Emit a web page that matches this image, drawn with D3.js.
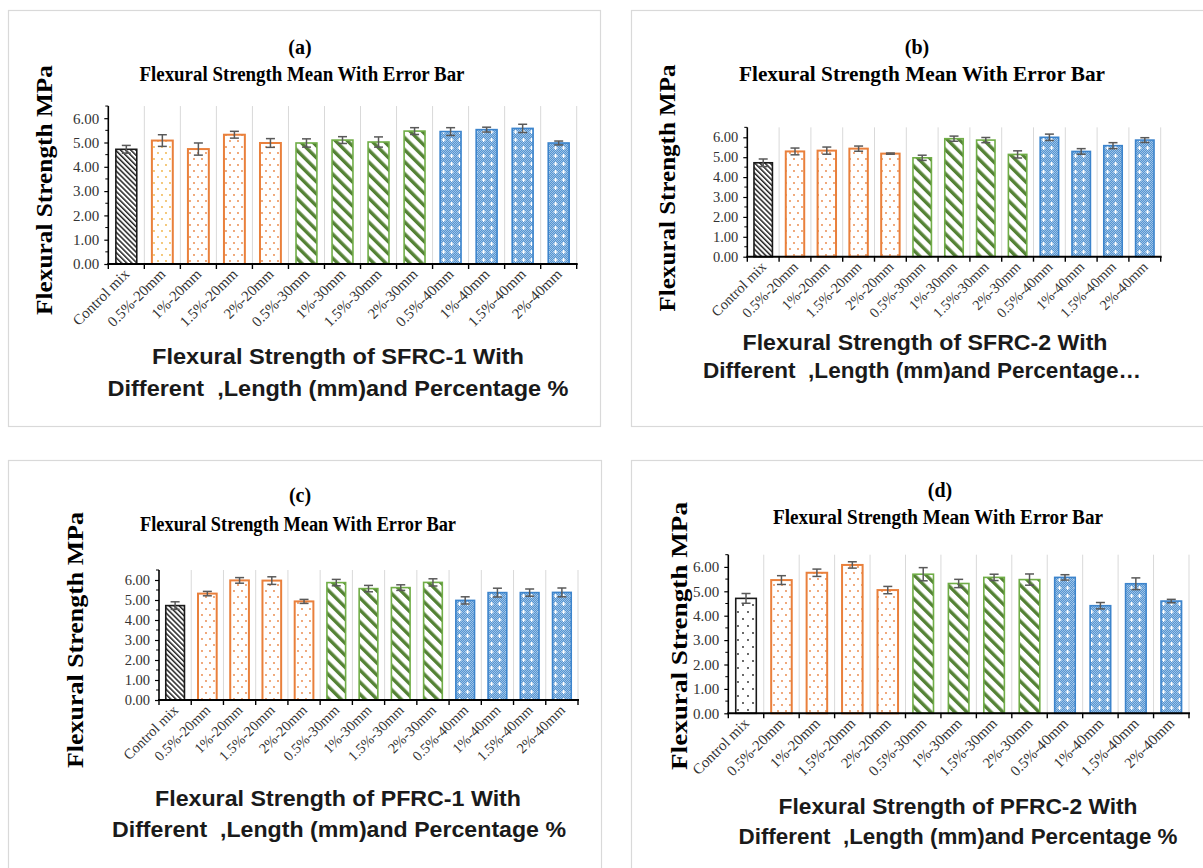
<!DOCTYPE html>
<html>
<head>
<meta charset="utf-8">
<script src="https://cdn.jsdelivr.net/npm/d3@7"></script>
<style>
  html, body { margin: 0; padding: 0; background: #fff; }
  svg { display: block; font-family: "Liberation Serif", "Times New Roman", serif; }
  .keep-space { white-space: pre; }
</style>
</head>
<body>
<svg id="chart" width="1203" height="868"></svg>
<script>
// Mix designations (fibre dosage % - fibre length)
const categories = ["Control mix", "0.5%-20mm", "1%-20mm", "1.5%-20mm", "2%-20mm",
  "0.5%-30mm", "1%-30mm", "1.5%-30mm", "2%-30mm",
  "0.5%-40mm", "1%-40mm", "1.5%-40mm", "2%-40mm"];
// Fibre length group of each mix
const lengthGroups = ["control", "20mm", "20mm", "20mm", "20mm",
  "30mm", "30mm", "30mm", "30mm", "40mm", "40mm", "40mm", "40mm"];

// Flexural strength means (MPa) and error bar half-widths
const sfrc1Mean = [4.72, 5.08, 4.73, 5.32, 4.98, 4.98, 5.10, 5.02, 5.47, 5.45, 5.53, 5.58, 4.98];
const sfrc1Err  = [0.16, 0.24, 0.25, 0.14, 0.18, 0.17, 0.14, 0.21, 0.14, 0.16, 0.10, 0.17, 0.08];
const sfrc2Mean = [4.72, 5.29, 5.33, 5.43, 5.18, 4.97, 5.93, 5.86, 5.14, 6.00, 5.29, 5.58, 5.86];
const sfrc2Err  = [0.19, 0.17, 0.18, 0.13, 0.03, 0.13, 0.13, 0.13, 0.18, 0.16, 0.14, 0.15, 0.12];
const pfrc1Mean = [4.72, 5.32, 5.98, 5.97, 4.93, 5.87, 5.57, 5.62, 5.88, 4.98, 5.37, 5.37, 5.38];
const pfrc1Err  = [0.19, 0.11, 0.14, 0.19, 0.10, 0.16, 0.16, 0.14, 0.18, 0.18, 0.22, 0.18, 0.22];
const pfrc2Mean = [4.71, 5.46, 5.76, 6.08, 5.05, 5.70, 5.32, 5.57, 5.48, 5.57, 4.41, 5.31, 4.60];
const pfrc2Err  = [0.20, 0.18, 0.15, 0.13, 0.15, 0.27, 0.17, 0.13, 0.23, 0.11, 0.13, 0.24, 0.07];

const yTicks = [0, 1, 2, 3, 4, 5, 6];
const yMax = 6.5;

const svg = d3.select("#chart");
const defs = svg.append("defs");

// ---- fill patterns ----
function stripes(id, size, w, color) {
  const p = defs.append("pattern").attr("id", id)
    .attr("patternUnits", "userSpaceOnUse")
    .attr("width", size).attr("height", size)
    .attr("patternTransform", "rotate(-45)");
  p.append("rect").attr("width", size).attr("height", size).attr("fill", "#fff");
  p.append("rect").attr("x", 0).attr("width", w).attr("height", size).attr("fill", color);
}
stripes("hatchBlack", 3.6, 1.5, "#222");
stripes("hatchGreen", 8.5, 3.4, "#548235");

function dots(id, wd, ht, r, color, pts) {
  const p = defs.append("pattern").attr("id", id)
    .attr("patternUnits", "userSpaceOnUse")
    .attr("width", wd).attr("height", ht);
  p.append("rect").attr("width", wd).attr("height", ht).attr("fill", "#fff");
  pts.forEach(([x, y]) => p.append("circle").attr("cx", x).attr("cy", y).attr("r", r).attr("fill", color));
}
dots("dotOrange", 8, 12, 0.9, "#E9823F", [[2, 3], [6, 9]]);
dots("dotYellow", 8, 12, 0.9, "#F0B040", [[2, 3], [6, 9]]);
dots("dotBlack", 10, 14, 0.9, "#222", [[3, 3], [8, 10]]);

(function () {
  const p = defs.append("pattern").attr("id", "blueCheck")
    .attr("patternUnits", "userSpaceOnUse")
    .attr("width", 8).attr("height", 8);
  p.append("rect").attr("width", 8).attr("height", 8).attr("fill", "#5594D2");
  for (let i = 0; i < 8; i++) for (let j = 0; j < 8; j++) {
    if ((i + j) % 2 === 0) p.append("rect").attr("x", i).attr("y", j).attr("width", 1).attr("height", 1).attr("fill", "#9DC3E6");
  }
  p.append("rect").attr("x", 3).attr("y", 2).attr("width", 1.2).attr("height", 4).attr("fill", "#fff");
  p.append("rect").attr("x", 1.6).attr("y", 3.4).attr("width", 4).attr("height", 1.2).attr("fill", "#fff");
})();

const styleOf = {
  control: { fill: "url(#hatchBlack)", stroke: "#1a1a1a", sw: 1.6 },
  "20mm": { fill: "url(#dotOrange)", stroke: "#E9803C", sw: 2 },
  "30mm": { fill: "url(#hatchGreen)", stroke: "#70AD47", sw: 1.6 },
  "40mm": { fill: "url(#blueCheck)", stroke: "#3C84CC", sw: 1.6 }
};

function panel(cfg) {
  const g = svg.append("g");
  // outer frame
  g.append("rect").attr("x", cfg.frame[0] + 0.5).attr("y", cfg.frame[1] + 0.5)
    .attr("width", cfg.frame[2]).attr("height", cfg.frame[3])
    .attr("fill", "none").attr("stroke", "#d9d9d9").attr("stroke-width", 1.2);

  const x = d3.scaleBand().domain(categories).range([cfg.left, cfg.right]).paddingInner(0.42).paddingOuter(0.21);
  const y = d3.scaleLinear().domain([0, yMax]).range([cfg.y0, cfg.y0 - yMax * cfg.unit]);
  const step = x.step();

  // vertical gridlines between categories
  const bounds = categories.map((c, i) => cfg.left + i * step).concat([cfg.right]);
  g.selectAll(".grid").data(bounds.slice(1)).join("line")
    .attr("x1", d => d).attr("x2", d => d)
    .attr("y1", y(yMax)).attr("y2", cfg.y0)
    .attr("stroke", "#d9d9d9").attr("stroke-width", 1);

  // bars
  g.selectAll(".bar").data(cfg.mean).join("rect")
    .attr("x", (d, i) => x(categories[i]))
    .attr("y", d => y(d))
    .attr("width", x.bandwidth())
    .attr("height", d => cfg.y0 - y(d))
    .attr("fill", (d, i) => (i === 0 && cfg.controlFill) ? cfg.controlFill :
      (i === 1 && cfg.firstOrange) ? cfg.firstOrange : styleOf[lengthGroups[i]].fill)
    .attr("stroke", (d, i) => styleOf[lengthGroups[i]].stroke)
    .attr("stroke-width", (d, i) => styleOf[lengthGroups[i]].sw);

  // error bars
  const eb = g.selectAll(".err").data(cfg.mean).join("g")
    .attr("transform", (d, i) => `translate(${x(categories[i]) + x.bandwidth() / 2},0)`)
    .attr("stroke", "#595959").attr("stroke-width", 1.5);
  eb.append("line").attr("x1", 0).attr("x2", 0)
    .attr("y1", (d, i) => y(d + cfg.err[i])).attr("y2", (d, i) => y(d - cfg.err[i]));
  eb.append("line").attr("x1", -4.5).attr("x2", 4.5)
    .attr("y1", (d, i) => y(d + cfg.err[i])).attr("y2", (d, i) => y(d + cfg.err[i]));
  eb.append("line").attr("x1", -4.5).attr("x2", 4.5)
    .attr("y1", (d, i) => y(d - cfg.err[i])).attr("y2", (d, i) => y(d - cfg.err[i]));

  // y axis
  const yAxis = g.append("g").attr("transform", `translate(${cfg.left},0)`)
    .call(d3.axisLeft(y).tickValues(yTicks).tickFormat(d3.format(".2f")).tickSize(4).tickPadding(5));
  yAxis.select(".domain").attr("stroke", "#000").attr("stroke-width", 1.6)
    .attr("d", `M0,${cfg.y0}V${y(yMax)}`);
  yAxis.selectAll(".tick line").attr("stroke", "#000").attr("stroke-width", 1.2);
  yAxis.selectAll(".tick text").attr("font-size", cfg.tickFont).attr("fill", "#333")
    .attr("font-family", "Liberation Serif, serif");
  // minor ticks
  g.selectAll(".minor").data(d3.range(0.5, yMax + 0.01, 1)).join("line")
    .attr("x1", cfg.left - 3).attr("x2", cfg.left)
    .attr("y1", d => y(d)).attr("y2", d => y(d))
    .attr("stroke", "#000").attr("stroke-width", 1);

  // x axis
  g.append("line").attr("x1", cfg.left - 1).attr("x2", cfg.right + 1)
    .attr("y1", cfg.y0).attr("y2", cfg.y0)
    .attr("stroke", "#000").attr("stroke-width", 2);
  g.selectAll(".xt").data(bounds).join("line")
    .attr("x1", d => d).attr("x2", d => d)
    .attr("y1", cfg.y0).attr("y2", cfg.y0 + 5)
    .attr("stroke", "#000").attr("stroke-width", 1.4);
  g.selectAll(".xl").data(categories).join("text")
    .attr("transform", d => `translate(${x(d) + x.bandwidth() / 2 + 4},${cfg.y0 + 11}) rotate(-45)`)
    .attr("text-anchor", "end")
    .attr("font-size", cfg.tickFont)
    .attr("fill", "#333")
    .text(d => d);

  // titles
  g.append("text").attr("x", cfg.letter[0]).attr("y", cfg.letter[1])
    .attr("text-anchor", "middle").attr("font-weight", "bold").attr("font-size", 20)
    .text(cfg.letterText);
  g.append("text").attr("x", cfg.title[0]).attr("y", cfg.title[1])
    .attr("text-anchor", "middle").attr("font-weight", "bold").attr("font-size", 20)
    .attr("textLength", cfg.title[2]).attr("lengthAdjust", "spacingAndGlyphs")
    .text("Flexural Strength Mean With Error Bar");

  // y-axis title
  g.append("text")
    .attr("transform", `translate(${cfg.ylab[0]},${cfg.ylab[1]}) rotate(-90)`)
    .attr("text-anchor", "middle").attr("font-weight", "bold").attr("font-size", 23)
    .attr("textLength", cfg.ylab[2]).attr("lengthAdjust", "spacingAndGlyphs")
    .text("Flexural Strength MPa");

  // x-axis title (two lines)
  cfg.xlab.forEach(([cx, cy, len, txt]) => {
    g.append("text").attr("class", "keep-space").attr("x", cx).attr("y", cy)
      .attr("text-anchor", "middle").attr("font-weight", "bold").attr("font-size", 22)
      .attr("font-family", "Liberation Sans, Arial, sans-serif")
      .attr("textLength", len).attr("lengthAdjust", "spacingAndGlyphs")
      .attr("fill", "#1a1a1a")
      .text(txt);
  });
}

panel({
  frame: [8, 10, 592, 416],
  left: 108.3, right: 576.7, y0: 264, unit: 24.3, tickFont: 15,
  mean: sfrc1Mean, err: sfrc1Err, firstOrange: "url(#dotYellow)",
  letter: [300, 54], letterText: "(a)", title: [302, 81, 325],
  ylab: [52, 190, 250],
  xlab: [[338, 364, 372, "Flexural Strength of SFRC-1 With"],
         [338, 396, 461, "Different  ,Length (mm)and Percentage %"]]
});
panel({
  frame: [631, 10, 600, 416],
  left: 747.3, right: 1160.7, y0: 256.7, unit: 19.9, tickFont: 14.5,
  mean: sfrc2Mean, err: sfrc2Err,
  letter: [917, 54], letterText: "(b)", title: [922, 81, 366],
  ylab: [675, 188, 247],
  xlab: [[925, 350, 365, "Flexural Strength of SFRC-2 With"],
         [922, 378, 438, "Different  ,Length (mm)and Percentage\u2026"]]
});
panel({
  frame: [8, 460, 593, 420],
  left: 159, right: 578, y0: 700, unit: 20, tickFont: 14.5,
  mean: pfrc1Mean, err: pfrc1Err,
  letter: [300, 502], letterText: "(c)", title: [298, 531, 316],
  ylab: [83, 640, 256],
  xlab: [[338, 806, 366, "Flexural Strength of PFRC-1 With"],
         [339, 837, 454, "Different  ,Length (mm)and Percentage %"]]
});
panel({
  frame: [631, 460, 600, 420],
  left: 728.3, right: 1189, y0: 713.3, unit: 24.4, tickFont: 15,
  mean: pfrc2Mean, err: pfrc2Err, controlFill: "url(#dotBlack)",
  letter: [940, 497], letterText: "(d)", title: [938, 524, 330],
  ylab: [687, 636, 268],
  xlab: [[958, 814, 359, "Flexural Strength of PFRC-2 With"],
         [958, 844, 439, "Different  ,Length (mm)and Percentage %"]]
});
</script>
</body>
</html>
